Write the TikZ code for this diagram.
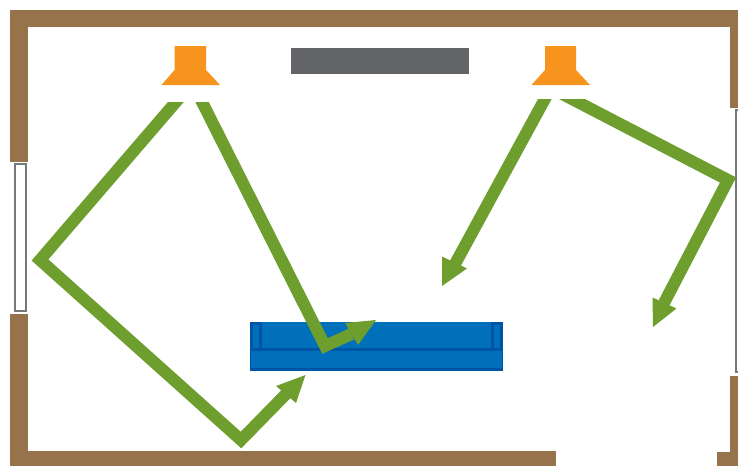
\documentclass[tikz,border=0pt]{standalone}
\usetikzlibrary{arrows.meta}
\definecolor{wall}{HTML}{96734A}
\definecolor{spk}{HTML}{F7941D}
\definecolor{ray}{HTML}{6D9E2E}
\definecolor{sofa}{HTML}{0070BA}
\definecolor{sofaedge}{HTML}{0054A6}
\definecolor{panel}{HTML}{636466}
\definecolor{frame}{HTML}{77787B}
\tikzset{
  wallpart/.style={fill=wall,draw=none},
  speaker/.style={fill=spk,draw=none},
  windowbox/.style={draw=frame,line width=2pt,fill=white},
  sofaline/.style={draw=sofaedge,line width=3pt},
  soundray/.style={draw=ray,line width=12pt,miter limit=10,line join=miter},
  head/.style={fill=ray,draw=none}
}
\begin{document}
\begin{tikzpicture}[x=1pt,y=-1pt]
\useasboundingbox (0,0) rectangle (738,466);
% walls
\fill[wallpart] (10,10) rectangle (738,27);
\fill[wallpart] (10,10) rectangle (28,162);
\fill[wallpart] (10,314) rectangle (28,466);
\fill[wallpart] (10,451) rectangle (556,466);
\fill[wallpart] (730,10) rectangle (738,108);
\fill[wallpart] (730,376) rectangle (738,466);
\fill[wallpart] (717,452) rectangle (738,466);
% windows
\draw[windowbox] (15.2,164) rectangle (25.5,311);
\draw[windowbox] (745,110) rectangle (736,372);
% panel
\fill[panel] (291,48) rectangle (469,74);
% speakers
\fill[speaker] (174.5,46) -- (206,46) -- (206,70) -- (220,85) -- (161.5,85) -- (174.5,70) -- cycle;
\fill[speaker] (545,46) -- (576,46) -- (576,70) -- (590,85) -- (531.5,85) -- (545,70) -- cycle;
% sofa
\fill[sofa] (250,322) rectangle (503,370.5);
\draw[sofaline] (250,349.5) -- (503,349.5);
\draw[sofaline] (250,369) -- (503,369);
\draw[draw=sofaedge,line width=1.5pt] (250.7,349.5) -- (250.7,370.5);
\draw[draw=sofaedge,line width=1.5pt] (502.3,349.5) -- (502.3,370.5);
\draw[sofaline] (251.5,349) -- (251.5,323.5) -- (260.5,323.5) -- (260.5,349);
\draw[sofaline] (492.5,349) -- (492.5,323.5) -- (501.5,323.5) -- (501.5,349);
% ray points
\coordinate (a0) at (189.6,86);
\coordinate (a1) at (40,260);
\coordinate (a2) at (241,440);
\coordinate (a3) at (287.5,392.5);
\coordinate (a4) at (305.5,375);
\coordinate (b0) at (194.5,87);
\coordinate (b1) at (325,346);
\coordinate (b2) at (351.5,334);
\coordinate (b3) at (376,320);
\coordinate (c0) at (553,84);
\coordinate (c1) at (455,264);
\coordinate (c2) at (442,286);
\coordinate (d0) at (543,84);
\coordinate (d1) at (728,180);
\coordinate (d2) at (664,303);
\coordinate (d3) at (653,327);
\begin{scope}
\clip (0,102) rectangle (738,466);
\draw[soundray] (a0) -- (a1) -- (a2) -- (a3);
\draw[soundray] (b0) -- (b1) -- (b2);
\end{scope}
\begin{scope}
\clip (0,99) rectangle (738,466);
\draw[soundray] (c0) -- (c1);
\draw[soundray] (d0) -- (d1) -- (d2);
\end{scope}
% arrowheads
\fill[head] (a4) -- (276,386) -- (296,403) -- cycle;
\fill[head] (b3) -- (345,323) -- (358,345) -- cycle;
\fill[head] (c2) -- (442,256.5) -- (467,268.5) -- cycle;
\fill[head] (d3) -- (652.5,297.5) -- (676.5,308.5) -- cycle;
\end{tikzpicture}
\end{document}
